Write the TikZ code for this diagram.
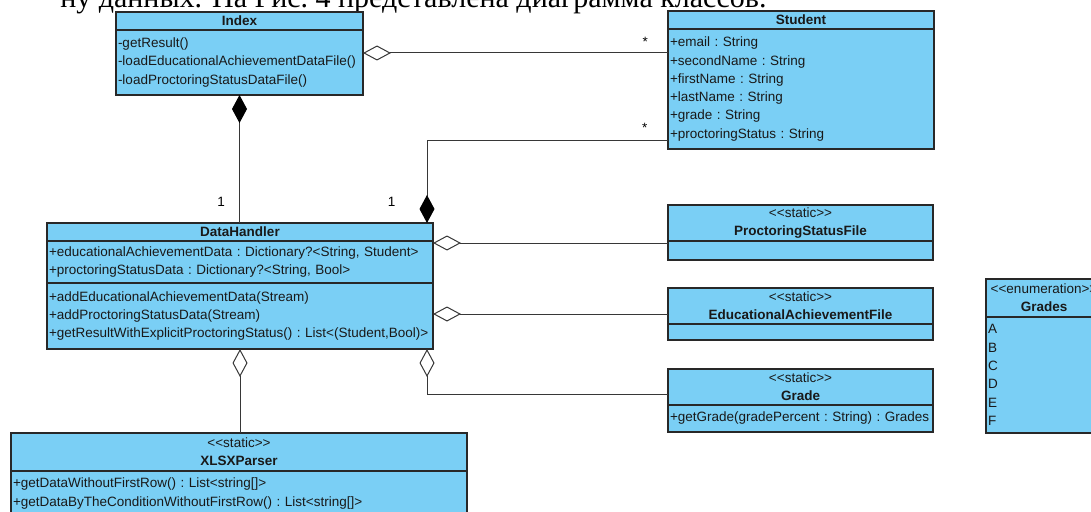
\documentclass[tikz,border=0pt]{standalone}
\usepackage{fontspec}
\setmainfont{Liberation Serif}
\setsansfont{Liberation Sans}
\usetikzlibrary{positioning, arrows.meta}

\definecolor{classfill}{RGB}{122,207,245}
\definecolor{classline}{RGB}{40,40,40}
\definecolor{assocline}{RGB}{55,55,55}
\newcommand{\umlfont}{\sffamily\fontsize{13.5}{18.3}\selectfont\frenchspacing}

\begin{document}
\begin{tikzpicture}[x=1pt, y=-1pt,
  box/.style={draw=classline, fill=classfill, line width=1.2pt, outer sep=0pt,
    inner xsep=2pt, inner ysep=0pt, text=black!90},
  head/.style={box, text width=#1, align=center, font=\umlfont},
  body/.style={box, text width=#1, align=left, font=\umlfont},
  link/.style={draw=assocline, line width=1pt},
  aggr/.style={link, {Diamond[open, length=28pt, width=15pt]}-},
  comp/.style={link, {Diamond[color=black, length=28pt, width=15pt]}-},
  mult/.style={font=\umlfont, inner sep=0pt}]

\useasboundingbox (0,0) rectangle (1091,511);

\node[anchor=base east, font=\fontsize{30}{34}\selectfont] (intro) at (770,7.5)
  {ну данных. На Рис.~4 представлена диаграмма классов.};

% classes
\node[head=243pt, minimum height=18pt, anchor=north west] (index) at (116,12) {\textbf{Index}};
\node[body=243pt, minimum height=65pt, below=0pt of index] (index-ops)
  {-getResult()\\-loadEducationalAchievementDataFile()\\-loadProctoringStatusDataFile()};

\node[head=262pt, minimum height=18pt, anchor=north west] (student) at (668,11) {\textbf{Student}};
\node[body=262pt, minimum height=120pt, below=0pt of student] (student-attr)
  {+email : String\\+secondName : String\\+firstName : String\\+lastName : String\\+grade : String\\+proctoringStatus : String};

\node[head=382pt, minimum height=18pt, anchor=north west] (dh) at (47,223) {\textbf{DataHandler}};
\node[body=382pt, minimum height=42pt, below=0pt of dh] (dh-attr)
  {+educationalAchievementData : Dictionary?<String, Student>\\+proctoringStatusData : Dictionary?<String, Bool>};
\node[body=382pt, minimum height=66pt, below=0pt of dh-attr] (dh-ops)
  {+addEducationalAchievementData(Stream)\\+addProctoringStatusData(Stream)\\+getResultWithExplicitProctoringStatus() : List<(Student,Bool)>};

\node[head=261pt, minimum height=36pt, anchor=north west] (psf) at (668,205)
  {<{}<static>{}>\\\textbf{ProctoringStatusFile}};
\node[body=261pt, minimum height=19pt, below=0pt of psf] (psf-body) {};

\node[head=261pt, minimum height=36pt, anchor=north west] (eaf) at (668,288)
  {<{}<static>{}>\\\textbf{EducationalAchievementFile}};
\node[body=261pt, minimum height=16pt, below=0pt of eaf] (eaf-body) {};

\node[head=261pt, minimum height=36pt, anchor=north west] (grade) at (668,369)
  {<{}<static>{}>\\\textbf{Grade}};
\node[body=261pt, minimum height=27pt, below=0pt of grade] (grade-ops)
  {\mbox{+getGrade(gradePercent : String) : Grades}};

\node[head=112pt, minimum height=38pt, anchor=north west] (grades) at (986,279)
  {<{}<enumeration>{}>\\\textbf{Grades}};
\node[body=112pt, minimum height=116pt, below=0pt of grades] (grades-list)
  {A\\B\\C\\D\\E\\F};

\node[head=452pt, minimum height=38pt, anchor=north west] (xlsx) at (11,433)
  {<{}<static>{}>\\\textbf{XLSXParser}};
\node[body=452pt, minimum height=45pt, below=0pt of xlsx] (xlsx-ops)
  {+getDataWithoutFirstRow() : List<string[]>\\+getDataByTheConditionWithoutFirstRow() : List<string[]>};

% relations
\draw[aggr] ([yshift=9.5pt]index-ops.east) coordinate (is) -- (is -| student-attr.west)
  node[mult, pos=0.925, above=6pt] {*};
\draw[comp] (index-ops.south) -- (index-ops.south |- dh.north)
  node[mult, pos=0.836, left=14pt] {1};
\draw[comp] ([xshift=-6pt]dh.north east) |- ([yshift=-51pt]student-attr.west)
  node[mult, pos=0.13, left=31pt] {1}
  node[mult, pos=0.952, above=7pt] {*};
\draw[aggr] ([yshift=19pt]dh-attr.east) coordinate (pa) -- (pa -| psf.west);
\draw[aggr] ([yshift=2pt]dh-ops.east) coordinate (ea) -- (ea -| eaf.west);
\draw[aggr] ([xshift=-6pt]dh-ops.south east) |- ([yshift=-7pt]grade.west);
\draw[aggr] (dh-ops.south) -- (dh-ops.south |- xlsx.north);

\end{tikzpicture}
\end{document}
